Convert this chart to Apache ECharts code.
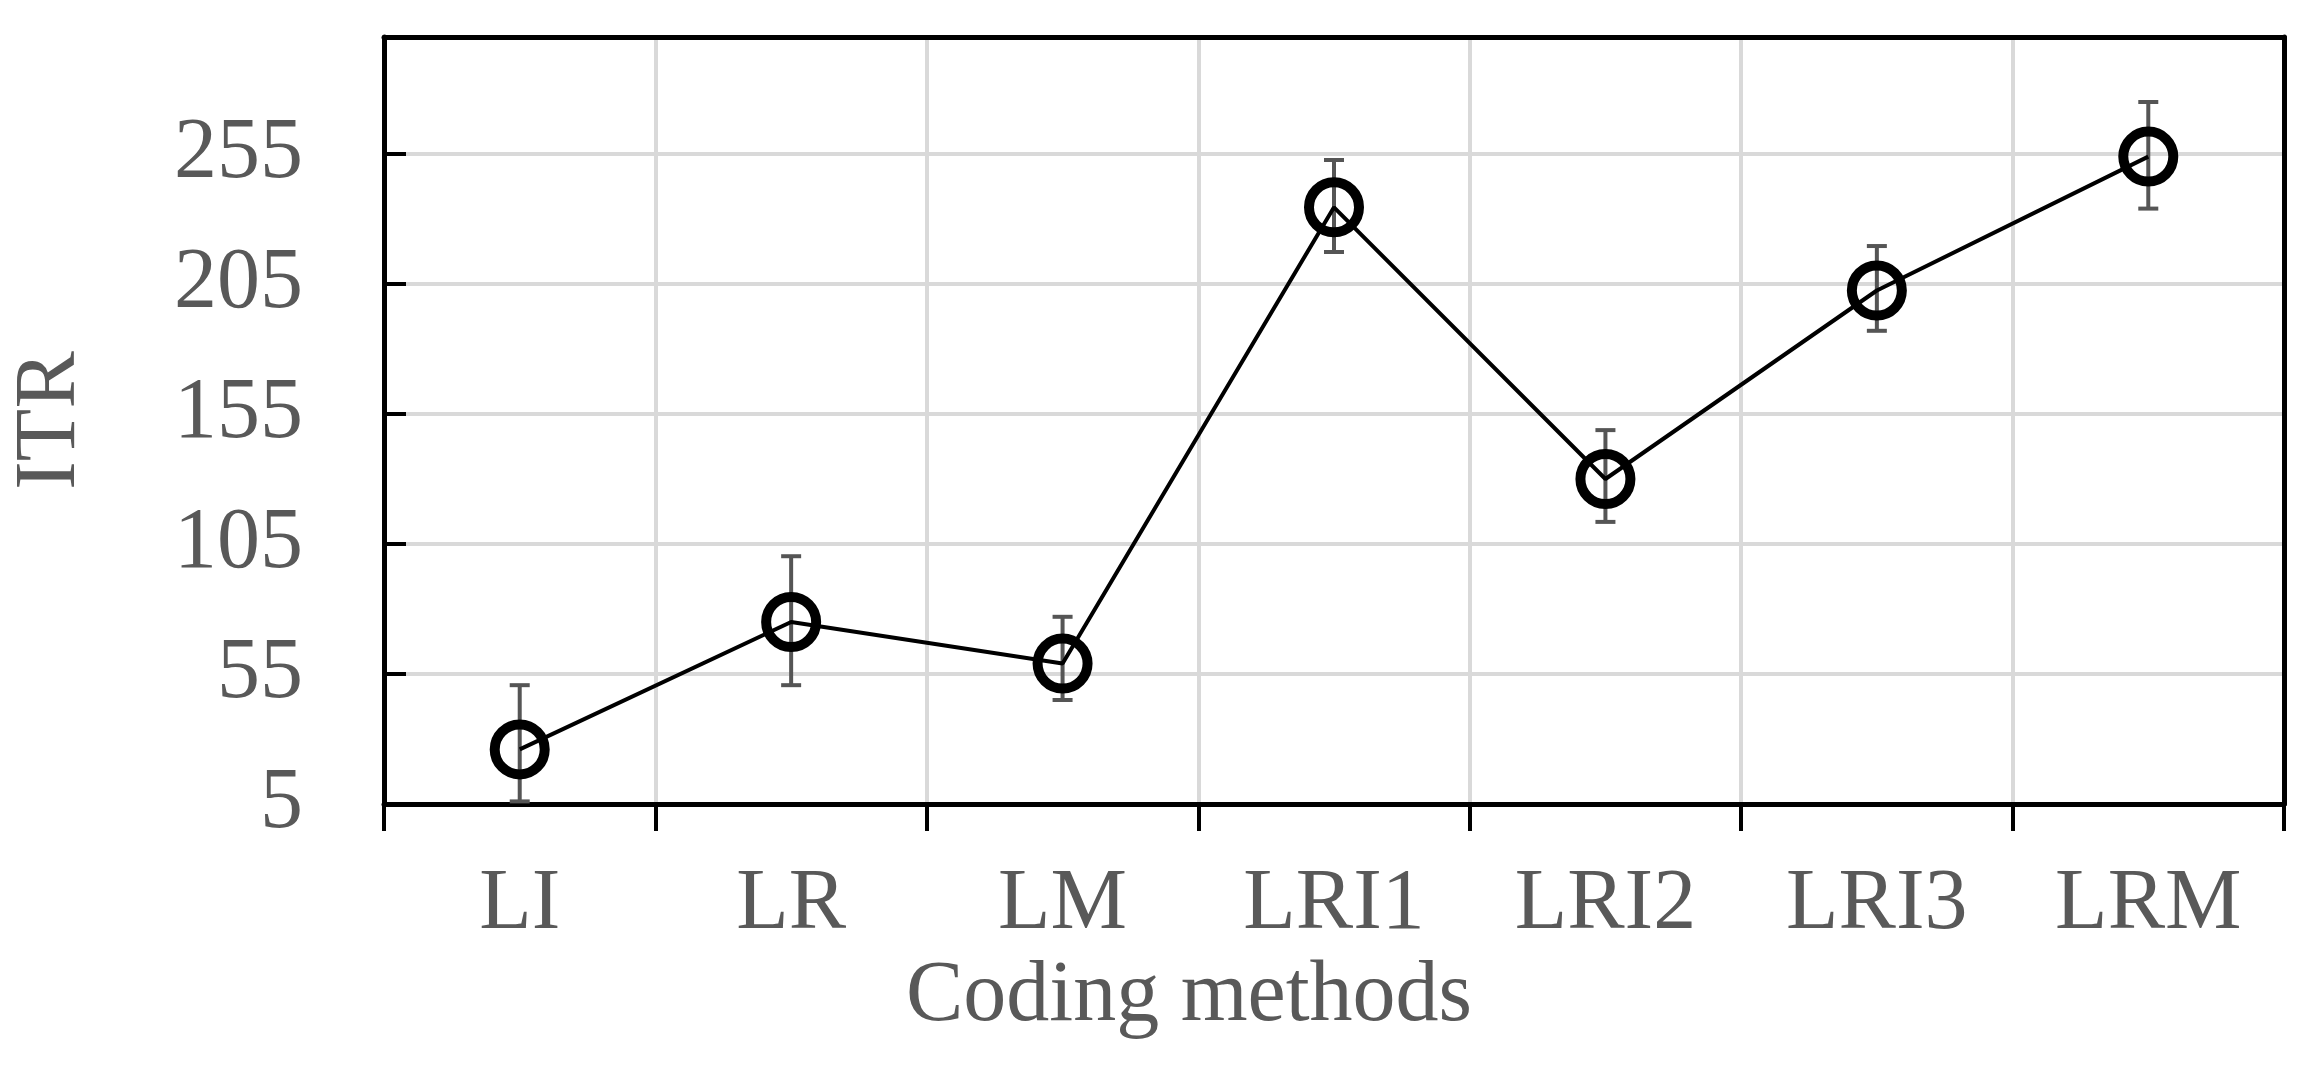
<!DOCTYPE html>
<html><head><meta charset="utf-8">
<script src="https://cdn.jsdelivr.net/npm/echarts@6/dist/echarts.min.js"></script>
<style>html,body{margin:0;padding:0;background:#fff}#c{width:2313px;height:1070px}</style>
</head><body><div id="c"></div>
<script>
const categories = ['LI','LR','LM','LRI1','LRI2','LRI3','LRM'];
const itrMean = [26, 75, 59, 234.5, 130, 202.5, 254];
const errLow  = [6, 50.7, 45, 217.3, 113.5, 187, 234];
const errHigh = [50.7, 100.3, 77, 252.7, 148.8, 219.6, 275];

const font = '"Liberation Serif","Times New Roman",serif';
const fs = 86;
const chart = echarts.init(document.getElementById('c'));
chart.setOption({
  animation:false,
  grid:{left:375,right:29,top:37,bottom:266},
  xAxis:[{type:'category',data:categories,boundaryGap:true,
    name:'Coding methods',nameLocation:'middle',nameGap:150,
    nameTextStyle:{fontFamily:font,fontSize:fs,color:'#595959',padding:[0,290,0,0]},
    axisLine:{lineStyle:{color:'#000',width:5}},
    axisTick:{show:true,length:27,lineStyle:{color:'#000',width:4}},
    axisLabel:{fontFamily:font,fontSize:fs,color:'#595959',margin:58},
    splitLine:{show:true,interval:0,lineStyle:{color:'#d9d9d9',width:4}}},
   {type:'category',data:categories,position:'top',axisLine:{show:true,lineStyle:{color:'#000',width:5}},
    axisTick:{show:false},axisLabel:{show:false},splitLine:{show:false}}],
  yAxis:[{type:'value',min:5,max:300,interval:50,
    name:'ITR',nameLocation:'middle',nameGap:290,
    nameTextStyle:{fontFamily:font,fontSize:fs,color:'#595959'},
    axisLine:{show:true,lineStyle:{color:'#000',width:5}},
    axisTick:{show:true,inside:true,length:22,lineStyle:{color:'#000',width:4}},
    axisLabel:{fontFamily:font,fontSize:fs,color:'#595959',margin:81,
      formatter:v=>v>=300?'':String(v)},
    splitLine:{show:true,lineStyle:{color:'#d9d9d9',width:4}}},
   {type:'value',min:5,max:300,interval:50,position:'right',
    axisLine:{show:true,lineStyle:{color:'#000',width:5}},
    axisTick:{show:false},axisLabel:{show:false},splitLine:{show:false}}],
  series:[
    {type:'custom',z:3,data:categories.map((c,i)=>[i,errLow[i],errHigh[i]]),
      renderItem:(params,api)=>{
        const lo=api.coord([api.value(0),api.value(1)]);
        const hi=api.coord([api.value(0),api.value(2)]);
        const w=10, st={stroke:'#555',lineWidth:4};
        return {type:'group',children:[
          {type:'line',shape:{x1:lo[0],y1:lo[1],x2:hi[0],y2:hi[1]},style:st},
          {type:'line',shape:{x1:lo[0]-w,y1:lo[1],x2:lo[0]+w,y2:lo[1]},style:st},
          {type:'line',shape:{x1:hi[0]-w,y1:hi[1],x2:hi[0]+w,y2:hi[1]},style:st}]};
      }},
    {type:'line',z:4,data:itrMean,symbol:'circle',symbolSize:50,
      lineStyle:{color:'#000',width:4},
      itemStyle:{color:'transparent',borderColor:'#000',borderWidth:10}}
  ]
});
</script></body></html>
